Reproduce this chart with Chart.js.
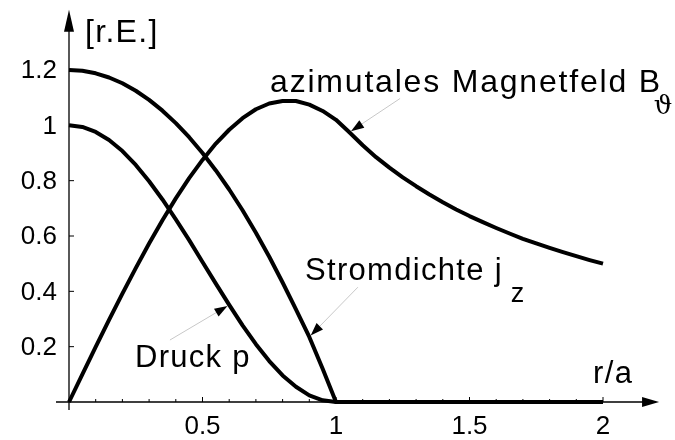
<!DOCTYPE html>
<html>
<head>
<meta charset="utf-8">
<script src="https://cdn.jsdelivr.net/npm/chart.js@4.4.1/dist/chart.umd.min.js"></script>
<style>
  html, body { margin: 0; padding: 0; background: #fff; }
  #wrap { width: 675px; height: 440px; }
</style>
</head>
<body>
<div id="wrap"><canvas id="profil"></canvas></div>
<script>
// Radius r/a, Schritt 0.05
const radius = [0, 0.05, 0.1, 0.15, 0.2, 0.25, 0.3, 0.35, 0.4, 0.45, 0.5, 0.55, 0.6, 0.65, 0.7, 0.75, 0.8, 0.85, 0.9, 0.95,
  1, 1.05, 1.1, 1.15, 1.2, 1.25, 1.3, 1.35, 1.4, 1.45, 1.5, 1.55, 1.6, 1.65, 1.7, 1.75, 1.8, 1.85, 1.9, 1.95, 2];

// Druck p
const druck = [1, 0.994, 0.976, 0.947, 0.907, 0.857, 0.798, 0.732, 0.66, 0.585, 0.506, 0.428, 0.351, 0.277, 0.209, 0.148, 0.096, 0.055, 0.024, 0.006,
  0, 0, 0, 0, 0, 0, 0, 0, 0, 0, 0, 0, 0, 0, 0, 0, 0, 0, 0, 0, 0];

// Stromdichte j_z
const stromdichte = [1.2, 1.197, 1.188, 1.173, 1.152, 1.125, 1.092, 1.053, 1.008, 0.957, 0.9, 0.837, 0.768, 0.693, 0.612, 0.525, 0.432, 0.335, 0.235, 0.12,
  0, 0, 0, 0, 0, 0, 0, 0, 0, 0, 0, 0, 0, 0, 0, 0, 0, 0, 0, 0, 0];

// azimutales Magnetfeld B_theta
const magnetfeld = [0, 0.1, 0.199, 0.297, 0.392, 0.484, 0.573, 0.657, 0.736, 0.809, 0.875, 0.934, 0.984, 1.026, 1.058, 1.079, 1.088, 1.088, 1.075, 1.052,
  1.02, 0.975, 0.928, 0.885, 0.847, 0.812, 0.78, 0.75, 0.722, 0.696, 0.672, 0.65, 0.629, 0.609, 0.59, 0.573, 0.557, 0.542, 0.527, 0.513, 0.5];

const xTickValues = [0.5, 1, 1.5, 2];
const xTickLabels = ['0.5', '1', '1.5', '2'];
const yTickValues = [0.2, 0.4, 0.6, 0.8, 1, 1.2];
const yTickLabels = ['0.2', '0.4', '0.6', '0.8', '1', '1.2'];

// Achsenenden (Pfeilspitzen) in Datenkoordinaten
const xAxisEnd = 2.21;
const yAxisEnd = 1.418;

const FONT = '"Liberation Sans", Arial, sans-serif';

function punkte(werte) {
  return radius.map((r, i) => ({ x: r, y: werte[i] }));
}

function pfeilspitze(ctx, x, y, winkel, laenge, breite) {
  ctx.save();
  ctx.translate(x, y);
  ctx.rotate(winkel);
  ctx.beginPath();
  ctx.moveTo(0, 0);
  ctx.lineTo(-laenge, -breite);
  ctx.lineTo(-laenge, breite);
  ctx.closePath();
  ctx.fill();
  ctx.restore();
}

// Achsen mit Pfeilen, Teilstrichen und Beschriftung
const achsen = {
  id: 'achsen',
  beforeDatasetsDraw(chart) {
    const { ctx, scales: { x, y } } = chart;
    const x0 = x.getPixelForValue(0);
    const y0 = y.getPixelForValue(0);
    const xEnd = x.getPixelForValue(xAxisEnd);
    const yEnd = y.getPixelForValue(yAxisEnd);
    ctx.save();
    ctx.strokeStyle = '#000';
    ctx.fillStyle = '#000';
    ctx.lineWidth = 1.3;

    ctx.beginPath();
    ctx.moveTo(x0 - 13, y0);
    ctx.lineTo(xEnd - 10, y0);
    ctx.moveTo(x0, y0 + 8);
    ctx.lineTo(x0, yEnd + 12);
    ctx.stroke();
    pfeilspitze(ctx, xEnd, y0, 0, 17, 5);
    pfeilspitze(ctx, x0, yEnd, -Math.PI / 2, 22, 5);

    // Teilstriche auf der r-Achse: 0.1 klein, 0.5 groß
    ctx.lineWidth = 1;
    ctx.beginPath();
    for (let k = 1; k <= 20; k++) {
      const px = x.getPixelForValue(k / 10);
      ctx.moveTo(px, y0);
      ctx.lineTo(px, y0 - (k % 5 === 0 ? 5 : 3));
    }
    yTickValues.forEach(v => {
      const py = y.getPixelForValue(v);
      ctx.moveTo(x0, py);
      ctx.lineTo(x0 + 5, py);
    });
    ctx.stroke();

    ctx.font = '26px ' + FONT;
    ctx.textAlign = 'center';
    ctx.textBaseline = 'alphabetic';
    xTickValues.forEach((v, i) => ctx.fillText(xTickLabels[i], x.getPixelForValue(v), y0 + 32));
    ctx.textAlign = 'right';
    ctx.textBaseline = 'middle';
    yTickValues.forEach((v, i) => ctx.fillText(yTickLabels[i], x0 - 12, y.getPixelForValue(v) + 1));
    ctx.restore();
  },
  afterDatasetsDraw(chart) {
    const { ctx, scales: { x, y } } = chart;
    ctx.save();
    ctx.fillStyle = '#000';
    ctx.textAlign = 'left';
    ctx.textBaseline = 'alphabetic';

    const text = (s, r, v, size, abstand) => {
      ctx.font = size + 'px ' + FONT;
      ctx.letterSpacing = abstand + 'px';
      const px = x.getPixelForValue(r), py = y.getPixelForValue(v);
      ctx.fillText(s, px, py);
      const w = ctx.measureText(s).width;
      ctx.letterSpacing = '0px';
      return px + w;
    };

    text('[r.E.]', 0.06, 1.30, 32, 1.3);
    text('r/a', 1.963, 0.069, 31, 1.3);
    text('Druck p', 0.247, 0.126, 31, 1.3);

    let ende = text('azimutales Magnetfeld B', 0.753, 1.119, 32, 1.8);
    ctx.font = '26px "DejaVu Serif", serif';
    ctx.fillText('\u03D1', ende - 8, y.getPixelForValue(1.119) + 22);

    ende = text('Stromdichte j', 0.884, 0.44, 31, 1.3);
    ctx.font = '27px ' + FONT;
    ctx.fillText('z', ende + 8, y.getPixelForValue(0.44) + 22);

    // Hinweispfeile von den Beschriftungen zu den Kurven
    const hinweis = (r0, v0, idx, werte) => {
      const ax = x.getPixelForValue(r0), ay = y.getPixelForValue(v0);
      const bx = x.getPixelForValue(radius[idx]), by = y.getPixelForValue(werte[idx]);
      const w = Math.atan2(by - ay, bx - ax);
      ctx.strokeStyle = '#c8c8c8';
      ctx.lineWidth = 1;
      ctx.beginPath();
      ctx.moveTo(ax, ay);
      ctx.lineTo(bx - 10 * Math.cos(w), by - 10 * Math.sin(w));
      ctx.stroke();
      ctx.fillStyle = '#000';
      pfeilspitze(ctx, bx - 2 * Math.cos(w), by - 2 * Math.sin(w), w, 13, 4.5);
    };
    hinweis(1.24, 1.097, 21, magnetfeld);
    hinweis(1.082, 0.415, 18, stromdichte);
    hinweis(0.378, 0.224, 12, druck);
    ctx.restore();
  }
};

const linie = {
  borderColor: '#000',
  borderWidth: 4,
  pointRadius: 0,
  tension: 0,
  borderJoinStyle: 'round',
  clip: false
};

new Chart(document.getElementById('profil'), {
  type: 'line',
  data: {
    datasets: [
      { label: 'Druck p', data: punkte(druck), ...linie },
      { label: 'Stromdichte j_z', data: punkte(stromdichte), ...linie },
      { label: 'azimutales Magnetfeld B', data: punkte(magnetfeld), ...linie }
    ]
  },
  options: {
    responsive: true,
    maintainAspectRatio: false,
    animation: false,
    events: [],
    layout: { padding: { left: 69, right: 72, top: 70, bottom: 38 } },
    plugins: { legend: { display: false }, tooltip: { enabled: false } },
    scales: {
      x: { type: 'linear', min: 0, max: 2, display: false },
      y: { type: 'linear', min: 0, max: 1.2, display: false }
    }
  },
  plugins: [achsen]
});
</script>
</body>
</html>
